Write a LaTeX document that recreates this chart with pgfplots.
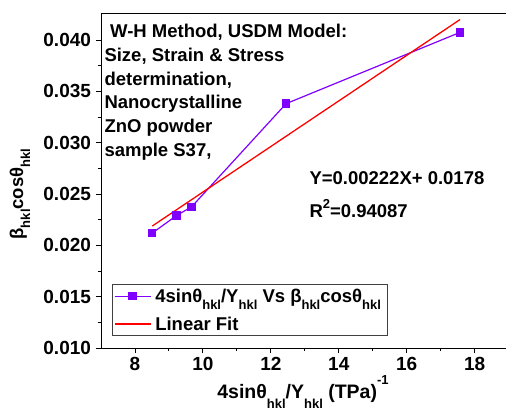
\documentclass[border=0pt]{standalone}
\usepackage{pgfplots}
\pgfplotsset{compat=1.18}
\usepackage{fontspec}
\setmainfont{Liberation Sans}

\definecolor{violetline}{RGB}{128,0,255}
\definecolor{fitred}{RGB}{255,0,0}

% main text size and lowered/raised small text
\newcommand\mainfont{\fontsize{18.5}{18.5}\selectfont\bfseries}
\newcommand\sub[1]{\raisebox{-7pt}{\fontsize{13}{13}\selectfont\bfseries #1}}
\newcommand\lowsub[1]{\raisebox{-10pt}{\fontsize{13}{13}\selectfont\bfseries #1}}
\newcommand\super[2][7.5pt]{\raisebox{#1}{\fontsize{13}{13}\selectfont\bfseries #2}}

\begin{document}
\begin{tikzpicture}
\begin{axis}[
  at={(101pt,60pt)}, anchor=south west,
  scale only axis,
  width=407.6pt, height=334.7pt,
  xmin=7, xmax=19,
  ymin=0.010, ymax=0.0426,
  xtick={8,10,...,18},
  ytick={0.010,0.015,...,0.0401},
  minor x tick num=1,
  minor y tick num=1,
  tick pos=left,
  tick align=outside,
  major tick length=5pt,
  minor tick length=3pt,
  axis line style={line width=1pt},
  tick style={line width=0.9pt, black},
  scaled y ticks=false,
  /pgf/number format/assume math mode=true,
  yticklabel style={/pgf/number format/fixed, /pgf/number format/fixed zerofill,
                    /pgf/number format/precision=3, xshift=-1.5pt},
  ticklabel style={font=\fontsize{19}{19}\selectfont\bfseries},
  xticklabel style={yshift=-1pt},
  legend cell align=left,
  legend image code/.code={\draw[mark repeat=2,mark phase=2,#1]
      plot coordinates {(0pt,0pt) (18pt,0pt) (36pt,0pt)};},
  legend style={at={(rel axis cs:0.026,0.036)}, anchor=south west,
                draw=black!75, line width=0.8pt,
                font=\mainfont, inner xsep=2pt, inner ysep=3pt,
                row sep=11pt,
                nodes={inner xsep=4pt, inner ysep=1pt}},
]
% measured points
\addplot[violetline, line width=1.2pt, mark=square*, mark size=3.6pt,
         mark options={fill=violetline, draw=violetline}]
  coordinates {
    (8.51, 0.02120)
    (9.22, 0.02289)
    (9.67, 0.02376)
    (12.45, 0.03380)
    (17.57, 0.04074)
  };
\addlegendentry{4sinθ\sub{hkl}/Y\sub{hkl} Vs β\sub{hkl}cosθ\sub{hkl}}
% least-squares line over the data range
\addplot[fitred, line width=1.3pt]
  coordinates {
    (8.51, 0.02188)
    (17.57, 0.04199)
  };
\addlegendentry{Linear Fit}
\end{axis}

% annotation block
\begin{scope}[every node/.style={inner sep=0pt, anchor=base west, font=\mainfont}]
  \node at (110pt,370pt) {W-H Method, USDM Model:};
  \node at (104.3pt,346.4pt) {Size, Strain \& Stress};
  \node at (104.3pt,322.8pt) {determination,};
  \node at (104.3pt,299.2pt) {Nanocrystalline};
  \node at (104.3pt,275.6pt) {ZnO powder};
  \node at (104.3pt,252pt) {sample S37,};
  \node at (309.3pt,224pt) {Y=0.00222X+ 0.0178};
  \node at (309.3pt,190.7pt) {R\super[8.5pt]{2}=0.94087};
\end{scope}

% axis titles
\node[inner sep=0pt, anchor=base, font=\fontsize{19.5}{19.5}\selectfont\bfseries] at (303pt,10pt)
  {4sinθ\lowsub{hkl}/Y\lowsub{hkl} (TPa)\super[14pt]{-1}};
\node[inner sep=0pt, rotate=90, font=\mainfont] at (20pt,214pt)
  {β\sub{hkl}cosθ\sub{hkl}};

\pgfresetboundingbox
\path[use as bounding box] (0pt,0pt) rectangle (506pt,408pt);
\end{tikzpicture}
\end{document}
